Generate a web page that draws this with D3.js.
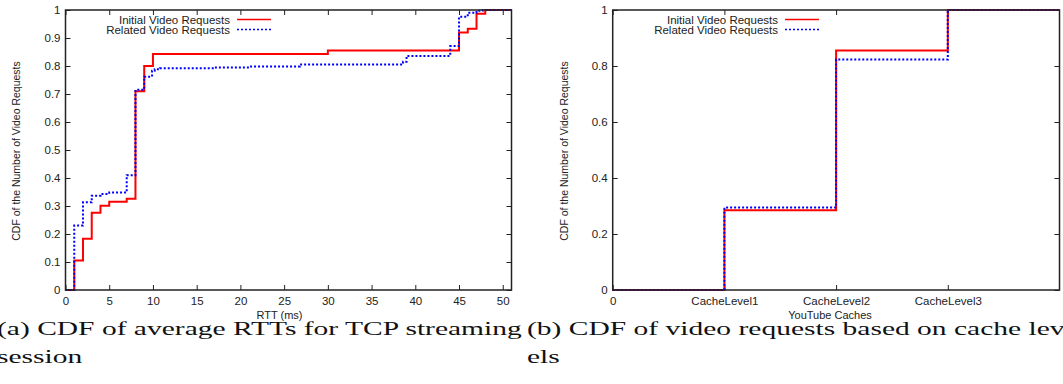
<!DOCTYPE html>
<html>
<head>
<meta charset="utf-8">
<script src="https://cdn.jsdelivr.net/npm/d3@7"></script>
<style>
  body { margin: 0; background: #fff; }
  svg { display: block; }
  .tick text { font-family: "Liberation Sans", Arial, sans-serif; font-size: 11.5px; fill: #222; }
  .tick line { stroke: #222; stroke-width: 1; }
  .lbl { font-family: "Liberation Sans", Arial, sans-serif; fill: #222; }
  .cap { font-family: "Liberation Serif", "Times New Roman", serif; font-size: 18.5px; fill: #111; }
</style>
</head>
<body>
<svg id="chart" width="1063" height="384"></svg>
<script>
// (a) CDF of average RTT, step points: x = RTT (ms), y = CDF after that x
var rttX        = [0, 1, 2, 3, 4, 5, 7, 8, 9, 10, 30, 45, 46, 47, 48, 51];
var rttInitial  = [0, 0.105, 0.183, 0.276, 0.301, 0.315, 0.326, 0.71, 0.80, 0.843, 0.855, 0.92, 0.933, 0.987, 1.0, 1.0];
var rttRelX     = [0, 1, 2, 3, 4, 5, 7, 8, 9, 9.9, 10.2, 10.8, 17, 21, 26.8, 38.6, 39, 44, 45, 46, 47, 47.7, 51];
var rttRelated  = [0, 0.23, 0.313, 0.337, 0.343, 0.348, 0.41, 0.715, 0.762, 0.783, 0.788, 0.792, 0.795, 0.798, 0.805, 0.815, 0.836, 0.871, 0.976, 0.99, 0.997, 1.0, 1.0];
var rttTicks    = [0, 5, 10, 15, 20, 25, 30, 35, 40, 45, 50];

// (b) CDF of video requests per cache level
var cacheLabels  = ["0", "CacheLevel1", "CacheLevel2", "CacheLevel3"];
var cacheX       = [0, 1, 2, 3, 4];
var cacheInitial = [0, 0.285, 0.855, 1.0, 1.0];
var cacheRelated = [0, 0.295, 0.823, 1.0, 1.0];

var seriesNames = ["Initial Video Requests", "Related Video Requests"];

var svg = d3.select("#chart");
var fmt = function(d) { return d === 0 ? "0" : d === 1 ? "1" : d.toFixed(1); };

function panel(opt) {
  var x = d3.scaleLinear().domain(opt.xDomain).range([opt.left, opt.right]);
  var y = d3.scaleLinear().domain([0, 1]).range([290, 10]);
  var g = svg.append("g");

  // ticks, drawn inward on all four sides
  g.append("g").attr("transform", "translate(0,290)")
    .call(d3.axisBottom(x).tickValues(opt.xTicks).tickFormat(opt.xFormat).tickSize(-5).tickPadding(7))
    .call(function(s) { s.select(".domain").remove(); });
  g.append("g").attr("transform", "translate(0,10)")
    .call(d3.axisTop(x).tickValues(opt.xTicks).tickFormat("").tickSize(-5))
    .call(function(s) { s.select(".domain").remove(); });
  g.append("g").attr("transform", "translate(" + opt.left + ",0)")
    .call(d3.axisLeft(y).tickValues(opt.yTicks).tickFormat(fmt).tickSize(-5).tickPadding(5))
    .call(function(s) { s.select(".domain").remove(); });
  g.append("g").attr("transform", "translate(" + opt.right + ",0)")
    .call(d3.axisRight(y).tickValues(opt.yTicks).tickFormat("").tickSize(-5))
    .call(function(s) { s.select(".domain").remove(); });

  var line = d3.line().curve(d3.curveStepAfter)
    .x(function(d) { return x(d[0]); })
    .y(function(d) { return y(d[1]); });

  g.append("path").datum(d3.zip(opt.x1, opt.s1))
    .attr("d", line).attr("fill", "none")
    .attr("stroke", "#ff0000").attr("stroke-width", 2);
  g.append("path").datum(d3.zip(opt.x2, opt.s2))
    .attr("d", line).attr("fill", "none")
    .attr("stroke", "#0000ff").attr("stroke-width", 2).attr("stroke-dasharray", "2,2");

  // frame
  g.append("rect")
    .attr("x", opt.left).attr("y", 10)
    .attr("width", opt.right - opt.left).attr("height", 280)
    .attr("fill", "none").attr("stroke", "#222").attr("stroke-width", 1.5);

  // legend
  seriesNames.forEach(function(name, i) {
    var yy = 19.5 + i * 10;
    g.append("text").attr("class", "lbl")
      .attr("x", opt.legX).attr("y", yy).attr("dy", "0.35em")
      .attr("text-anchor", "end").style("font-size", "11.5px").text(name);
    g.append("line")
      .attr("x1", opt.legX + 7).attr("x2", opt.legX + 41)
      .attr("y1", yy).attr("y2", yy)
      .attr("stroke", i ? "#0000ff" : "#ff0000").attr("stroke-width", 1.5)
      .attr("stroke-dasharray", i ? "2,2" : null);
  });

  g.append("text").attr("class", "lbl")
    .attr("x", opt.xLabelX).attr("y", 319)
    .attr("text-anchor", "middle").style("font-size", "11px").text(opt.xLabel);
  g.append("text").attr("class", "lbl")
    .attr("transform", "translate(" + opt.yLabelX + ",151) rotate(-90)")
    .attr("text-anchor", "middle").style("font-size", "10.5px")
    .text("CDF of the Number of Video Requests");
}

panel({
  xDomain: [0, 51], left: 65.5, right: 511.5,
  xTicks: rttTicks, xFormat: d3.format("d"),
  yTicks: d3.range(0, 1.01, 0.1).map(function(v) { return +v.toFixed(1); }),
  x1: rttX, s1: rttInitial, x2: rttRelX, s2: rttRelated,
  legX: 230, xLabel: "RTT (ms)", xLabelX: 279.5, yLabelX: 20
});

panel({
  xDomain: [0, 4], left: 612.7, right: 1059.5,
  xTicks: [0, 1, 2, 3], xFormat: function(d) { return cacheLabels[d]; },
  yTicks: [0, 0.2, 0.4, 0.6, 0.8, 1],
  x1: cacheX, s1: cacheInitial, x2: cacheX, s2: cacheRelated,
  legX: 778, xLabel: "YouTube Caches", xLabelX: 830, yLabelX: 568
});

// sub-figure captions
var capA = ["(a) CDF of average RTTs for TCP streaming", "session"];
var capB = ["(b) CDF of video requests based on cache lev-", "els"];

var t = svg.append("text").attr("class", "cap").attr("x", 0).attr("y", 335.5).text(capA[0]);
var sx = 525 / t.node().getComputedTextLength();
t.attr("transform", "translate(-3,0) scale(" + sx + ",1)");
svg.append("text").attr("class", "cap")
  .attr("transform", "translate(-3,0) scale(" + sx + ",1)")
  .attr("x", 0).attr("y", 363.5).text(capA[1]);
capB.forEach(function(s, i) {
  svg.append("text").attr("class", "cap")
    .attr("transform", "translate(527,0) scale(" + sx + ",1)")
    .attr("x", 0).attr("y", 335.5 + i * 28).text(s);
});
</script>
</body>
</html>
